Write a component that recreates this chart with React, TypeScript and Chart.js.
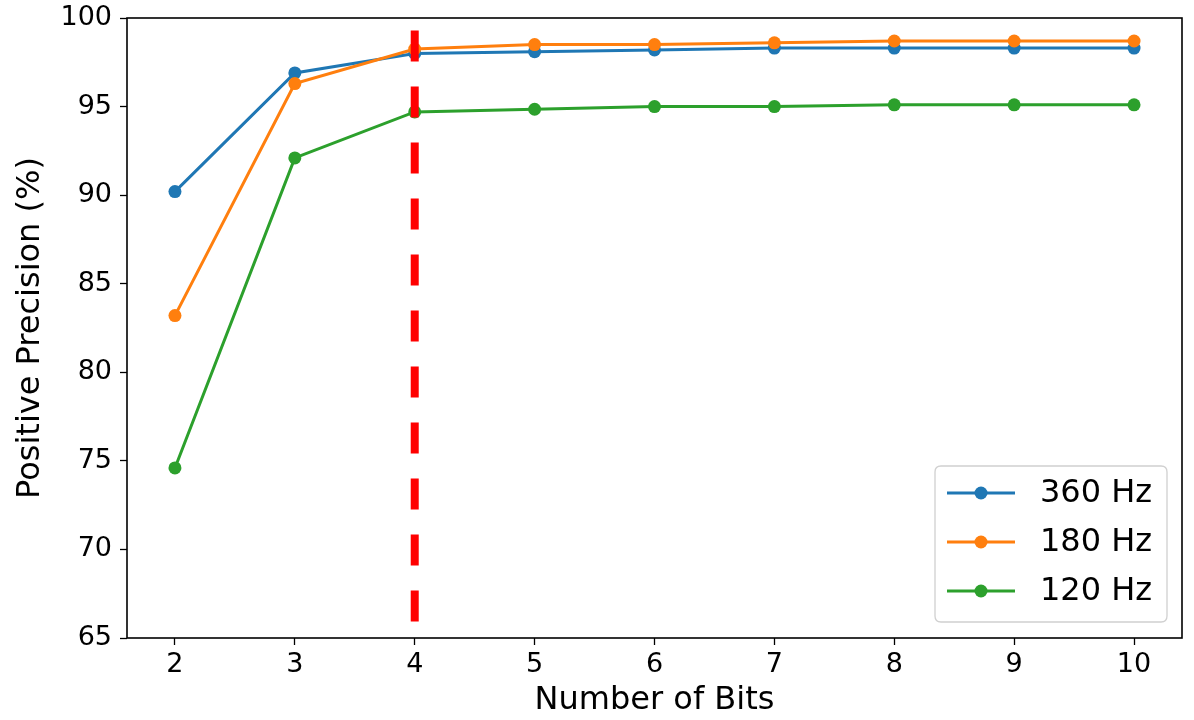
import React, { useEffect, useRef } from "react";
import { Chart, registerables } from "chart.js";

Chart.register(...registerables);

const bits = [2, 3, 4, 5, 6, 7, 8, 9, 10];
const series360 = [90.2, 96.9, 98.0, 98.1, 98.2, 98.3, 98.3, 98.3, 98.3];
const series180 = [83.2, 96.3, 98.25, 98.5, 98.5, 98.6, 98.7, 98.7, 98.7];
const series120 = [74.6, 92.1, 94.7, 94.85, 95.0, 95.0, 95.1, 95.1, 95.1];
const seriesLabels = ["360 Hz", "180 Hz", "120 Hz"];
const seriesColors = ["#1f77b4", "#ff7f0e", "#2ca02c"];
const markerX = 4;
const markerYRange = [99.3, 65.9];
const yTicks = [65, 70, 75, 80, 85, 90, 95, 100];

const FONT = "'DejaVu Sans', sans-serif";

export default function App() {
  const ref = useRef<HTMLCanvasElement | null>(null);

  useEffect(() => {
    if (!ref.current) return;
    const mk = (vals: number[]) => bits.map((b, i) => ({ x: b, y: vals[i] }));
    const allSeries = [series360, series180, series120];

    const framePlugin = {
      id: "frameLegend",
      afterDraw(chart: any) {
        const { ctx, chartArea: a } = chart;
        ctx.save();
        ctx.strokeStyle = "#000";
        ctx.lineWidth = 1.6;
        ctx.strokeRect(a.left, a.top, a.right - a.left, a.bottom - a.top);

        // legend
        const bx = 935, by = 466, bw = 232, bh = 156, r = 6;
        ctx.beginPath();
        ctx.moveTo(bx + r, by);
        ctx.lineTo(bx + bw - r, by);
        ctx.quadraticCurveTo(bx + bw, by, bx + bw, by + r);
        ctx.lineTo(bx + bw, by + bh - r);
        ctx.quadraticCurveTo(bx + bw, by + bh, bx + bw - r, by + bh);
        ctx.lineTo(bx + r, by + bh);
        ctx.quadraticCurveTo(bx, by + bh, bx, by + bh - r);
        ctx.lineTo(bx, by + r);
        ctx.quadraticCurveTo(bx, by, bx + r, by);
        ctx.closePath();
        ctx.fillStyle = "rgba(255,255,255,0.8)";
        ctx.fill();
        ctx.strokeStyle = "#d0d0d0";
        ctx.lineWidth = 1.3;
        ctx.stroke();

        const rows = [493, 542, 591];
        seriesLabels.forEach((lab, i) => {
          const y = rows[i];
          ctx.strokeStyle = seriesColors[i];
          ctx.lineWidth = 3;
          ctx.beginPath();
          ctx.moveTo(947, y);
          ctx.lineTo(1015, y);
          ctx.stroke();
          ctx.fillStyle = seriesColors[i];
          ctx.beginPath();
          ctx.arc(981, y, 6.5, 0, Math.PI * 2);
          ctx.fill();
          ctx.fillStyle = "#000";
          ctx.font = `32px ${FONT}`;
          ctx.textBaseline = "middle";
          ctx.textAlign = "left";
          ctx.fillText(lab, 1040, y + 1);
        });
        ctx.restore();
      },
    };

    const lineDs = (i: number, order: number) => ({
      label: seriesLabels[i],
      data: mk(allSeries[i]),
      borderColor: seriesColors[i],
      backgroundColor: seriesColors[i],
      borderWidth: 3,
      pointRadius: 6.5,
      pointBorderWidth: 0,
      pointHoverRadius: 6.5,
      tension: 0,
      order,
    });

    const chart = new Chart(ref.current, {
      type: "line",
      data: {
        datasets: [
          lineDs(0, 3),
          lineDs(1, 2),
          lineDs(2, 1),
          {
            label: "marker",
            data: markerYRange.map((y) => ({ x: markerX, y })),
            borderColor: "#ff0000",
            backgroundColor: "#ff0000",
            borderWidth: 8,
            borderDash: [31, 25],
            borderCapStyle: "butt",
            pointRadius: 0,
            order: 0,
          } as any,
        ],
      },
      options: {
        animation: false,
        responsive: false,
        devicePixelRatio: 1,
        layout: { padding: { left: 0, top: 18, right: 12, bottom: 0 } },
        plugins: { legend: { display: false }, tooltip: { enabled: false } },
        scales: {
          x: {
            type: "linear",
            min: 1.6,
            max: 10.4,
            afterBuildTicks: (s: any) => {
              s.ticks = bits.map((v) => ({ value: v }));
            },
            afterFit: (s: any) => {
              s.height = 82;
              s.paddingLeft = 0;
              s.paddingRight = 0;
            },
            grid: {
              drawOnChartArea: false,
              drawTicks: true,
              tickLength: 7,
              tickColor: "#000",
              tickWidth: 1.3,
            },
            border: { display: false },
            ticks: {
              color: "#000",
              font: { family: FONT, size: 27 },
              padding: 4,
              maxRotation: 0,
              autoSkip: false,
            },
            title: {
              display: true,
              text: "Number of Bits",
              color: "#000",
              font: { family: FONT, size: 32 },
              padding: { top: 0, bottom: 0 },
            },
          },
          y: {
            type: "linear",
            min: 65,
            max: 100,
            afterBuildTicks: (s: any) => {
              s.ticks = yTicks.map((v) => ({ value: v }));
            },
            afterFit: (s: any) => {
              s.width = 127;
              s.paddingTop = 0;
              s.paddingBottom = 0;
            },
            grid: {
              drawOnChartArea: false,
              drawTicks: true,
              tickLength: 7,
              tickColor: "#000",
              tickWidth: 1.3,
            },
            border: { display: false },
            ticks: {
              color: "#000",
              font: { family: FONT, size: 27 },
              padding: 8,
              autoSkip: false,
            },
            title: {
              display: true,
              text: "Positive Precision (%)",
              color: "#000",
              font: { family: FONT, size: 32 },
              padding: { top: 11, bottom: 0 },
            },
          },
        },
      },
      plugins: [framePlugin],
    } as any);

    return () => chart.destroy();
  }, []);

  return (
    <div style={{ position: "absolute", left: 0, top: 0, width: 1194, height: 720, background: "#fff" }}>
      <canvas ref={ref} width={1194} height={720} />
    </div>
  );
}
